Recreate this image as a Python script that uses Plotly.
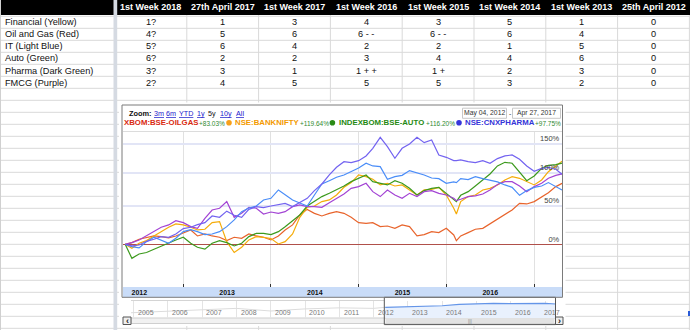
import numpy as np
import plotly.graph_objects as go

W, H = 690, 330

# ---------------- spreadsheet table ----------------
col_headers = ["1st Week 2018", "27th April 2017", "1st Week 2017", "1st Week 2016",
               "1st Week 2015", "1st Week 2014", "1st Week 2013", "25th April 2012"]
sectors = ["Financial (Yellow)", "Oil and Gas (Red)", "IT (Light Blue)", "Auto (Green)",
           "Pharma (Dark Green)", "FMCG (Purple)"]
ranks = [
    ["1?", "1", "3", "4", "3", "5", "1", "0"],
    ["4?", "5", "6", "6 - -", "6 - -", "6", "4", "0"],
    ["5?", "6", "4", "2", "2", "1", "5", "0"],
    ["6?", "2", "2", "3", "4", "4", "6", "0"],
    ["3?", "3", "1", "1 + +", "1 +", "2", "3", "0"],
    ["2?", "4", "5", "5", "5", "3", "2", "0"],
]

# ---------------- sector indices, % change since 04 May 2012 ----------------
dates = [
    "2012-05-04", "2012-06-01", "2012-07-01", "2012-08-01", "2012-09-01", "2012-10-01",
    "2012-11-01", "2012-12-01",
    "2013-01-01", "2013-02-01", "2013-03-01", "2013-04-01", "2013-05-01", "2013-06-01",
    "2013-07-01", "2013-08-01", "2013-09-01", "2013-10-01", "2013-11-01", "2013-12-01",
    "2014-01-01", "2014-02-01", "2014-03-01", "2014-04-01", "2014-05-01", "2014-06-01",
    "2014-07-01", "2014-08-01", "2014-09-01", "2014-10-01", "2014-11-01", "2014-12-01",
    "2015-01-01", "2015-02-01", "2015-03-01", "2015-04-01", "2015-05-01", "2015-06-01",
    "2015-07-01", "2015-08-01", "2015-09-01", "2015-10-01", "2015-11-01", "2015-12-01",
    "2016-01-01", "2016-02-01", "2016-02-12", "2016-03-01", "2016-04-01", "2016-05-01",
    "2016-06-01", "2016-07-01", "2016-08-01", "2016-09-01", "2016-10-01", "2016-11-01",
    "2016-12-01",
    "2017-01-01", "2017-02-01", "2017-03-01", "2017-04-01", "2017-04-27",
]
oilgas = [0, 2.0, 5.9, 8.3, 9.9, 9.1, 7.5, 9.9,
          13.1, 17.3, 9.9, 12.3, 9.9, 8.3, 4.3, 8.3, 7.1, 12.3, 9.9, 8.3,
          5.1, 9.9, 17.3, 23.7, 36.9, 44.6, 39.1, 35.5, 39.1, 41.4, 39.1, 33.7,
          26.7, 25.8, 26.7, 21.5, 22.3, 19.4, 23.7, 21.5, 9.9, 11.5, 15.2, 14.0,
          19.4, 11.1, 4.3, 9.9, 14.0, 18.2, 19.4, 25.0, 31.1, 38.2, 43.7, 53.1, 52.2,
          55.6, 62.9, 68.8, 78.0, 83.03]
banknifty = [0, -4.6, 1.2, 4.3, 9.9, 15.2, 20.7, 25.0,
             23.7, 20.7, 17.3, 18.2, 26.7, 28.0, 3.1, -9.3, -3.4, 5.1, 9.1, 8.3,
             6.7, 0.4, 3.1, 12.3, 33.7, 47.5, 49.3, 55.6, 58.0, 65.3, 76.9, 84.3,
             96.5, 93.8, 89.5, 80.6, 83.2, 79.0, 80.6, 72.9, 65.3, 72.9, 73.9, 76.9,
             65.3, 46.1, 38.2, 55.6, 62.9, 65.3, 72.9, 75.4, 80.6, 88.4, 93.8, 91.1, 85.8,
             80.6, 88.4, 101.9, 111.4, 119.64]
auto = [0, -15.6, -10.9, -9.3, -5.6, -1.9, 1.2, 5.1,
        8.3, 1.2, -3.4, -5.6, 1.2, 4.3, 2.0, -1.9, 1.2, 9.1, 13.1, 13.1,
        11.5, 15.2, 21.5, 29.3, 36.9, 49.3, 55.6, 62.9, 67.8, 72.9, 79.0, 85.8,
        91.1, 96.5, 85.8, 83.2, 80.6, 87.3, 83.2, 75.4, 65.3, 71.9, 75.4, 76.9,
        67.8, 58.0, 55.6, 64.8, 70.3, 79.0, 88.4, 98.1, 111.4, 117.6, 115.9, 101.9, 87.3,
        94.9, 107.4, 112.5, 113.6, 116.20]
pharma = [0, -1.9, -0.8, 3.5, 5.9, 9.1, 8.3, 12.3,
          19.0, 20.7, 24.1, 26.7, 35.5, 33.7, 42.1, 36.5, 33.7, 44.6, 48.4, 47.0,
          49.3, 51.3, 53.1, 48.4, 54.1, 60.4, 71.9, 82.1, 96.5, 109.2, 118.7, 117.0,
          120.4, 128.6, 142.2, 162.4, 145.2, 124.5, 142.2, 150.1, 162.4, 152.5, 157.4, 130.3,
          126.2, 120.4, 120.4, 121.6, 118.7, 117.0, 120.4, 115.9, 124.0, 128.6, 130.3, 122.9, 111.4,
          102.5, 107.4, 109.1, 105.8, 97.75]
it = [0, -2.7, -4.2, 3.1, 8.3, 5.1, 1.2, 7.1,
      15.2, 17.7, 15.2, 11.5, 12.3, 15.2, 21.5, 30.2, 41.4, 46.5, 49.3, 58.0,
      60.4, 72.9, 65.3, 58.0, 53.6, 49.3, 65.3, 82.1, 87.3, 92.7, 96.5, 101.9,
      107.9, 115.9, 111.4, 110.3, 89.5, 93.8, 95.9, 103.6, 100.3, 96.5, 91.6, 90.5,
      83.2, 85.3, 84.3, 90.5, 88.9, 93.8, 90.5, 88.4, 85.3, 80.6, 76.9, 64.8, 71.9,
      76.9, 79.0, 84.3, 78.0, 72.9]
fmcg = [0, 2.0, 5.1, 9.9, 14.8, 20.7, 23.7, 29.3,
        26.7, 21.5, 19.4, 32.4, 43.7, 46.1, 55.6, 33.7, 39.1, 47.5, 46.1, 38.2,
        40.9, 39.1, 41.4, 48.4, 50.8, 48.4, 48.4, 47.5, 54.1, 60.4, 66.8, 75.4,
        78.0, 83.2, 70.3, 62.9, 72.9, 65.3, 60.4, 67.8, 62.9, 70.3, 71.9, 67.8,
        65.3, 60.4, 57.0, 59.0, 62.9, 63.9, 66.8, 72.9, 81.2, 85.8, 85.8, 79.0, 70.3,
        78.0, 83.2, 91.1, 95.9, 98.1]

legend_names = ["XBOM:BSE-OILGAS", "NSE:BANKNIFTY", "INDEXBOM:BSE-AUTO", "NSE:CNXPHARMA"]
legend_changes = ["+83.03%", "+119.64%", "+116.20%", "+97.75%"]
pct_ticks = [0, 50, 100, 150]

# overview strip under the chart (relative index level)
nav_hist_dates = ["2004-12-05", "2006-01-01", "2007-01-01", "2008-01-01", "2009-01-01",
                  "2010-01-01", "2011-01-01", "2012-01-01", "2012-05-04"]
nav_hist = [30, 38, 45, 55, 40, 52, 58, 55, 61]
nav_sel_dates = ["2012-05-04", "2013-01-01", "2013-07-01", "2014-01-01", "2014-07-01",
                 "2015-01-01", "2015-07-01", "2016-01-01", "2016-07-01", "2017-01-01",
                 "2017-04-27"]
nav_sel = [61, 64, 66, 70, 78, 83, 84, 82, 84, 84, 80]
nav_years = list(range(2005, 2018))

FONT = "Liberation Sans, Arial, sans-serif"
C_OIL, C_BANK, C_AUTO = "#e8642c", "#f5ac0a", "#3d9a1e"
C_PHARMA, C_IT, C_FMCG = "#7363f0", "#4a8df8", "#a344d4"


def sc(p):
    """Percent change -> vertical chart coordinate (compressed scale, 0% at 0)."""
    return np.sqrt(1 + np.asarray(p, dtype=float) / 100.0) - 1


def px(x):
    return x / W


def py(y):
    return 1 - y / H


shapes = []
annotations = []


def rect(x0, y0, x1, y1, fill=None, line=None, lw=1, layer="below"):
    shapes.append(dict(type="rect", xref="paper", yref="paper",
                       x0=px(x0), x1=px(x1), y0=py(y1), y1=py(y0),
                       fillcolor=fill or "rgba(0,0,0,0)",
                       line=dict(color=line or "rgba(0,0,0,0)", width=lw if line else 0),
                       layer=layer))


def seg(x0, y0, x1, y1, color, w=1, layer="below"):
    shapes.append(dict(type="line", xref="paper", yref="paper",
                       x0=px(x0), x1=px(x1), y0=py(y0), y1=py(y1),
                       line=dict(color=color, width=w), layer=layer))


def text(x, y, s, size=9, color="#111", bold=False, anchor="center", xref="paper"):
    annotations.append(dict(x=px(x) if xref == "paper" else x, y=py(y), xref=xref, yref="paper",
                            text=f"<b>{s}</b>" if bold else s, showarrow=False,
                            xanchor=anchor, yanchor="middle",
                            font=dict(family=FONT, size=size, color=color)))


# ---- spreadsheet grid ----
rect(0, 0, W, 15, fill="#000000")
for k in range(27):
    y = 16.3 + 12 * k
    seg(0, y, W, y, "#d9d9d9", 1)
col_edges = [115 + 71.8 * k for k in range(9)]
for x in col_edges[1:]:
    seg(x, 15, x, H, "#d9d9d9", 1)
seg(0.5, 0, 0.5, H, "#d0d0d0", 1)
rect(113.5, 0, 117.2, H, fill="#d5dae2")
rect(688, 311, 690, 316, fill="#2a5bd7")

col_centers = [(col_edges[i] + col_edges[i + 1]) / 2 for i in range(8)]
for c, h in zip(col_centers, col_headers):
    text(c, 7.2, h, size=9, color="#ffffff", bold=True)
for i, (name, row) in enumerate(zip(sectors, ranks)):
    yy = 22.5 + 12 * i
    text(3, yy, name, size=9.2, anchor="left")
    for c, v in zip(col_centers, row):
        text(c, yy, v, size=9.2)

# ---- chart panel ----
rect(119, 102.5, 565.5, 326, fill="#ffffff")
seg(123, 131.5, 562, 131.5, "#dcdcdc", 1)
rect(123, 287, 562.3, 297.3, fill="#c9dcf8")

# overview strip decorations
rect(131, 318, 556, 323.5, fill="#f1f1f1", line="#cfcfcf", lw=1)
rect(386, 318.2, 554, 323.3, fill="#e2e2e2")
seg(131, 300.5, 384, 300.5, "#d4d4d4", 1)
rect(123, 317, 131, 324.5, fill="#eeeeee", line="#555555", lw=1, layer="above")
rect(555.5, 317, 563, 324.5, fill="#eeeeee", line="#555555", lw=1, layer="above")
text(127, 320.6, "‹", size=9, color="#222", bold=True)
text(559.3, 320.6, "›", size=9, color="#222", bold=True)
text(470, 320.8, "|||", size=5, color="#888")
rect(384.3, 297.3, 555.5, 324.6, line="#555555", lw=1, layer="above")

# chart frame
rect(122, 105, 562.5, 297.3, line="#7b7b7b", lw=1, layer="above")

# top controls
text(126.5, 113.3, "Zoom:", size=7.4, color="#111", bold=True, anchor="left")
zoom_links = [("3m", 159), ("6m", 171.3), ("YTD", 186.2), ("1y", 200.5), ("10y", 225.5), ("All", 240)]
for lbl, xc in zoom_links:
    text(xc, 113.3, f"<u>{lbl}</u>", size=7.2, color="#1a1acc")
text(212, 113.3, "5y", size=7.2, color="#111")
rect(462.5, 108.2, 506.5, 118.3, fill="#ffffff", line="#c8c8c8", lw=1)
rect(512.5, 108.2, 560.5, 118.3, fill="#ffffff", line="#c8c8c8", lw=1)
text(484.5, 113.3, "May 04, 2012", size=6.8, color="#333")
text(509.5, 113.3, "-", size=6.8, color="#333")
text(536.5, 113.3, "Apr 27, 2017", size=6.8, color="#333")

# legend row
leg_y = 122.8
leg_text_colors = ["#d92a10", "#f39a00", "#1f8a12", "#3434d8"]
leg_dot_colors = [None, "#f7a01a", "#2a8a16", "#3636da"]
leg_name_x = [122.3, 233.3, 336.7, 463.3]
leg_chg_x = [197.3, 297.7, 424.0, 532.7]
for i in range(4):
    text(leg_name_x[i], leg_y, legend_names[i], size=7.8, color=leg_text_colors[i], bold=True, anchor="left")
    text(leg_chg_x[i], leg_y + 0.6, legend_changes[i], size=6.5, color="#2f8a2f", anchor="left")
    if leg_dot_colors[i]:
        cx = leg_name_x[i] - 4.3
        shapes.append(dict(type="circle", xref="paper", yref="paper",
                           x0=px(cx - 2.8), x1=px(cx + 2.8), y0=py(leg_y + 2.8), y1=py(leg_y - 2.8),
                           fillcolor=leg_dot_colors[i], line=dict(width=0), layer="above"))

# overview year labels
for yr in nav_years:
    xd = f"{yr}-05-12" if yr < 2017 else "2017-03-12"
    text(xd, 312.3, str(yr), size=7, color="#7a7a7a", xref="x2")

fig = go.Figure()

series = [("OILGAS", oilgas, C_OIL), ("BANKNIFTY", banknifty, C_BANK), ("AUTO", auto, C_AUTO),
          ("FMCG", fmcg, C_FMCG), ("IT", it, C_IT), ("PHARMA", pharma, C_PHARMA)]
for name, vals, col in series:
    fig.add_trace(go.Scatter(x=dates, y=sc(vals), mode="lines", name=name,
                             line=dict(color=col, width=1.2), hoverinfo="skip",
                             xaxis="x", yaxis="y"))

fig.add_trace(go.Scatter(x=nav_hist_dates, y=nav_hist, mode="lines",
                         line=dict(color="#dcdcdc", width=1), hoverinfo="skip",
                         xaxis="x2", yaxis="y2"))
fig.add_trace(go.Scatter(x=nav_sel_dates, y=nav_sel, mode="lines", fill="tozeroy",
                         fillcolor="#e9f1fd", line=dict(color="#6495e8", width=1.2),
                         hoverinfo="skip", xaxis="x2", yaxis="y2"))

fig.update_layout(
    width=W, height=H, margin=dict(l=0, r=0, t=0, b=0),
    paper_bgcolor="#ffffff", plot_bgcolor="rgba(0,0,0,0)",
    showlegend=False, font=dict(family=FONT),
    shapes=shapes, annotations=annotations,
    xaxis=dict(domain=[px(123), px(562.3)], type="date",
               range=["2012-04-25", "2017-04-28"],
               dtick="M12", tick0="2012-01-01", tickformat="%Y", ticklabelmode="period",
               ticks="inside", ticklen=3, tickcolor="#333333", tickwidth=1,
               showgrid=True, gridcolor="#e1e1e1", gridwidth=1,
               showline=False, zeroline=False,
               tickfont=dict(family=FONT, size=7, color="#111111", weight="bold")),
    yaxis=dict(domain=[py(287), py(131.5)], range=[-0.2474, 0.6535],
               side="right", tickvals=list(sc(pct_ticks)),
               ticktext=[f"{v}%" for v in pct_ticks],
               ticklabelposition="inside top", ticks="",
               showgrid=True, gridcolor="#e2e5f6", gridwidth=1.5,
               zeroline=True, zerolinecolor="#b0504a", zerolinewidth=1.2,
               showline=False,
               tickfont=dict(family=FONT, size=7.5, color="#444444")),
    xaxis2=dict(domain=[px(131), px(556)], type="date",
                range=["2004-12-05", "2017-04-27"], anchor="y2",
                dtick="M12", tick0="2005-01-01", showticklabels=False, ticks="",
                showgrid=True, gridcolor="#e4e4e4", zeroline=False, showline=False),
    yaxis2=dict(domain=[py(318), py(300.5)], range=[0, 100], anchor="x2",
                showticklabels=False, showgrid=False, zeroline=False, ticks=""),
)

fig.write_html("out.html")
